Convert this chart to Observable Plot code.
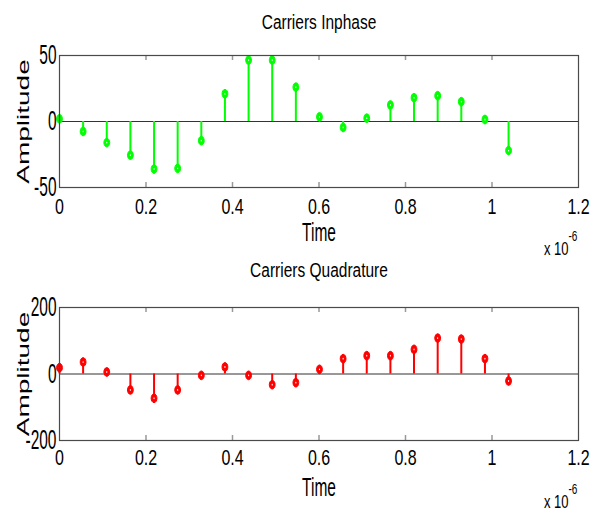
<!DOCTYPE html>
<html><head><meta charset="utf-8">
<script src="https://cdn.jsdelivr.net/npm/d3@7"></script>
<script src="https://cdn.jsdelivr.net/npm/@observablehq/plot@0.6"></script>
<style>
html,body{margin:0;padding:0;background:#fff;}
#chart{width:591px;height:515px;position:relative;overflow:hidden;background:#fff;}
#chart svg{display:block;}
</style></head><body><div id="chart"></div>
<script>
// time in units of 1e-6 s
const timesUs = [0, 0.0546, 0.1093, 0.1639, 0.2186, 0.2732, 0.3279, 0.3825, 0.4372, 0.4918,
                 0.5465, 0.6011, 0.6558, 0.7104, 0.7651, 0.8197, 0.8744, 0.9290, 0.9837, 1.0383];
const inphase = [2, -7.5, -16, -25.5, -36, -35.5, -14.5, 21, 46.5, 46.5,
                 26, 3.5, -4.5, 2.5, 12.5, 18, 19.5, 15, 1.5, -22];
const quadrature = [19, 36, 6, -48, -73, -48, -4, 21, -4, -32,
                    -26, 14, 46, 55, 55, 74, 108, 105, 46, -21];
const xTicks = [0, 0.2, 0.4, 0.6, 0.8, 1, 1.2];
const xTickLabels = ["0", "0.2", "0.4", "0.6", "0.8", "1", "1.2"];
const inphaseYTicks = [-50, 0, 50];
const inphaseYLabels = ["-50", "0", "50"];
const quadYTicks = [-200, 0, 200];
const quadYLabels = ["-200", "0", "200"];
const titles = ["Carriers Inphase", "Carriers Quadrature"];
const xLabel = "Time";
const yLabel = "Amplitude";
const expBase = "x 10";
const expPower = "-6";

function ellipse(rx, ry) {
  const k = 0.5523;
  return {draw(ctx) {
    ctx.moveTo(rx, 0);
    ctx.bezierCurveTo(rx, ry * k, rx * k, ry, 0, ry);
    ctx.bezierCurveTo(-rx * k, ry, -rx, ry * k, -rx, 0);
    ctx.bezierCurveTo(-rx, -ry * k, -rx * k, -ry, 0, -ry);
    ctx.bezierCurveTo(rx * k, -ry, rx, -ry * k, rx, 0);
    ctx.closePath();
  }};
}

function scaleText(t, sx, sy) {
  let tr = t.getAttribute("transform");
  if (!tr) {
    const x = +t.getAttribute("x") || 0, y = +t.getAttribute("y") || 0;
    t.removeAttribute("x"); t.removeAttribute("y");
    tr = `translate(${x},${y})`;
  }
  t.setAttribute("transform", `${tr} scale(${sx},${sy})`);
}
function stretchGroup(svg, label, sx, sy) {
  svg.querySelectorAll(`g[aria-label="${label}"] text`).forEach(t => scaleText(t, sx, sy));
}
function stretchByContent(svg, content, sx, sy) {
  svg.querySelectorAll("text").forEach(t => { if (t.textContent === content) scaleText(t, sx, sy); });
}

function panel({values, color, yTicks, yLabels, title, height, marginTop, marginBottom, titleDy, xLabelDy, tickPad, expDy}) {
  const data = timesUs.map((t, i) => ({t, v: values[i]}));
  const innerH = height - marginTop - marginBottom;
  const inner = xTicks.slice(1, -1);
  const svg = Plot.plot({
    width: 591, height, marginLeft: 59, marginRight: 13, marginTop, marginBottom,
    style: {fontFamily: "'Liberation Sans', Arial, sans-serif", color: "black", background: "white", overflow: "visible"},
    x: {domain: [0, 1.2]},
    y: {domain: [yTicks[0], yTicks[yTicks.length - 1]]},
    marks: [
      Plot.ruleX(inner, {x: d => d, stroke: "#999", strokeWidth: 1.5, insetBottom: innerH - 5}),
      Plot.ruleX(inner, {x: d => d, stroke: "#999", strokeWidth: 1.5, insetTop: innerH - 5}),
      Plot.ruleY([0], {stroke: "#333", strokeWidth: 1.2}),
      Plot.ruleX(data, {x: "t", y1: 0, y2: "v", stroke: color, strokeWidth: 2}),
      Plot.dot(data, {x: "t", y: "v", symbol: ellipse(2.9, 4.4), fill: color, stroke: color, strokeWidth: 1}),
      Plot.dot(data, {x: "t", y: "v", symbol: ellipse(0.6, 0.9), fill: "white", stroke: "none"}),
      Plot.frame({stroke: "#4a4a4a", strokeWidth: 1.2}),
      Plot.axisX({ticks: xTicks, tickFormat: (d) => xTickLabels[xTicks.indexOf(d)], tickSize: 0, tickPadding: tickPad, fontSize: 16, label: null}),
      Plot.axisY({ticks: yTicks, tickFormat: (d) => yLabels[yTicks.indexOf(d)], tickSize: 0, tickPadding: 3, fontSize: 15.5, label: null}),
      Plot.text([title], {text: d => d, frameAnchor: "top", dy: titleDy, lineAnchor: "middle", textAnchor: "middle", fontSize: 15.5}),
      Plot.text([xLabel], {text: d => d, frameAnchor: "bottom", dy: xLabelDy, lineAnchor: "middle", textAnchor: "middle", fontSize: 15.5}),
      Plot.text([yLabel], {text: d => d, frameAnchor: "left", dx: -35.5, rotate: -90, lineAnchor: "middle", textAnchor: "middle", fontSize: 16}),
      Plot.text([expBase], {text: d => d, frameAnchor: "bottom-right", dx: -10, dy: expDy, lineAnchor: "middle", textAnchor: "end", fontSize: 13}),
      Plot.text([expPower], {text: d => d, frameAnchor: "bottom-right", dx: -10, dy: expDy - 13, lineAnchor: "middle", textAnchor: "start", fontSize: 10})
    ]
  });
  stretchGroup(svg, "x-axis tick label", 1, 1.43);
  stretchGroup(svg, "y-axis tick label", 1, 1.75);
  stretchByContent(svg, title, 1, 1.3);
  stretchByContent(svg, xLabel, 1, 1.7);
  stretchByContent(svg, yLabel, 1.75, 1);
  stretchByContent(svg, expBase, 1, 1.4);
  stretchByContent(svg, expPower, 1, 1.4);
  return svg;
}

const chart = document.getElementById("chart");
chart.append(panel({values: inphase, color: "#00ff00", yTicks: inphaseYTicks, yLabels: inphaseYLabels,
  title: titles[0], height: 257, marginTop: 55, marginBottom: 70, titleDy: -33, xLabelDy: 45, tickPad: 10, expDy: 62}));
chart.append(panel({values: quadrature, color: "#ff0000", yTicks: quadYTicks, yLabels: quadYLabels,
  title: titles[1], height: 258, marginTop: 50, marginBottom: 75, titleDy: -37, xLabelDy: 47, tickPad: 8, expDy: 62}));
</script></body></html>
